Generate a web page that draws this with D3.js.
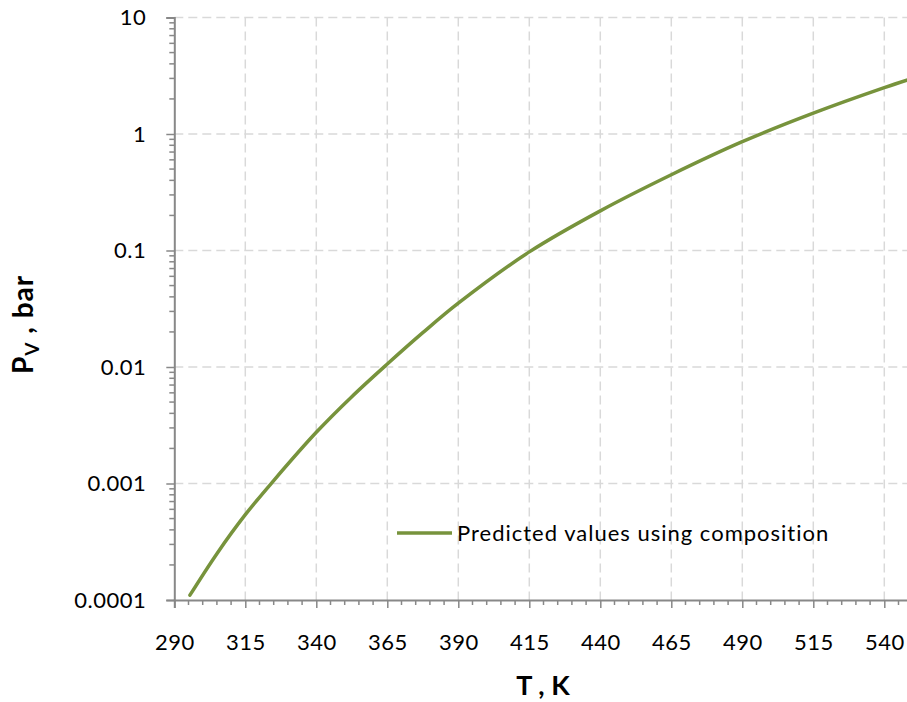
<!DOCTYPE html>
<html>
<head>
<meta charset="utf-8">
<script src="https://cdn.jsdelivr.net/npm/d3@7"></script>
<style>
  html, body { margin: 0; padding: 0; background: #fff; }
  svg { display: block; font-family: Lato, "Open Sans", sans-serif; }
</style>
</head>
<body>
<svg id="chart" width="907" height="702"></svg>
<script>
// Vapour pressure curve, predicted from composition
const temperatures = [295.5, 305, 315, 325, 340, 352.5, 365, 377.5, 390, 415, 440, 465, 490, 515, 540, 550];
const pressures    = [1.1e-4, 2.5e-4, 5.4e-4, 1.06e-3, 2.75e-3, 5.56e-3, 0.0106, 0.0197, 0.0353, 0.0973, 0.219, 0.447, 0.859, 1.51, 2.50, 3.01];
const seriesName = "Predicted values using composition";

const xTicks = [290, 315, 340, 365, 390, 415, 440, 465, 490, 515, 540];
const yTicks = [0.0001, 0.001, 0.01, 0.1, 1, 10];
const yTickLabels = ["0.0001", "0.001", "0.01", "0.1", "1", "10"];

(function draw() {
  const svg = d3.select("#chart");
  const plotLeft = 174.3, plotTop = 17.5, plotBottom = 600, plotRight = 912.7;

  const x = d3.scaleLinear().domain([290, 550]).range([plotLeft, plotRight]);
  const y = d3.scaleLog().domain([1e-4, 10]).range([plotBottom, plotTop]);

  const gridColor = "#d9d9d9", axisColor = "#888888", lineColor = "#77933c";

  // dashed grid
  const grid = svg.append("g");
  grid.selectAll("line.vg").data(xTicks.filter(t => t > 290)).join("line")
    .attr("class", "vg")
    .attr("x1", d => x(d)).attr("x2", d => x(d))
    .attr("y1", plotTop).attr("y2", plotBottom)
    .attr("stroke", gridColor).attr("stroke-width", 1.5).attr("stroke-dasharray", "9,5");
  grid.selectAll("line.hg").data(yTicks.filter(t => t > 1e-4)).join("line")
    .attr("class", "hg")
    .attr("x1", plotLeft).attr("x2", plotRight)
    .attr("y1", d => y(d)).attr("y2", d => y(d))
    .attr("stroke", gridColor).attr("stroke-width", 1.5).attr("stroke-dasharray", "9,5");

  // minor ticks
  const xMinor = d3.range(295, 551, 5).filter(t => (t - 290) % 25 !== 0);
  svg.append("g").selectAll("line").data(xMinor).join("line")
    .attr("x1", d => x(d)).attr("x2", d => x(d))
    .attr("y1", plotBottom).attr("y2", plotBottom + 5)
    .attr("stroke", axisColor).attr("stroke-width", 1.5);
  const yMinor = [];
  for (let e = -4; e < 1; e++) for (let k = 2; k <= 9; k++) yMinor.push(k * Math.pow(10, e));
  svg.append("g").selectAll("line").data(yMinor).join("line")
    .attr("x1", plotLeft - 5).attr("x2", plotLeft)
    .attr("y1", d => y(d)).attr("y2", d => y(d))
    .attr("stroke", axisColor).attr("stroke-width", 1.5);

  // axes
  const xAxis = svg.append("g").attr("transform", `translate(0,${plotBottom})`)
    .call(d3.axisBottom(x).tickValues(xTicks).tickSize(8).tickPadding(26).tickFormat(d3.format("d")));
  const yAxis = svg.append("g").attr("transform", `translate(${plotLeft},0)`)
    .call(d3.axisLeft(y).tickValues(yTicks).tickSize(8).tickPadding(20)
      .tickFormat((d, i) => yTickLabels[i]));
  [xAxis, yAxis].forEach(a => {
    a.select(".domain").attr("stroke", axisColor).attr("stroke-width", 2);
    a.selectAll(".tick line").attr("stroke", axisColor).attr("stroke-width", 1.5);
    a.selectAll(".tick text").attr("fill", "#000").style("font-size", "22px")
      .style("letter-spacing", "0.5px")
      .style("font-family", "Lato, 'Open Sans', sans-serif");
  });
  yAxis.selectAll(".tick text").attr("dy", "0.34em");

  // curve
  const pts = temperatures.map((t, i) => [x(t), y(pressures[i])]);
  svg.append("path").datum(pts)
    .attr("d", d3.line().curve(d3.curveCatmullRom.alpha(0.5)))
    .attr("fill", "none").attr("stroke", lineColor).attr("stroke-width", 3.5)
    .attr("stroke-linecap", "round");

  // legend
  svg.append("line").attr("x1", 397).attr("x2", 452).attr("y1", 533).attr("y2", 533)
    .attr("stroke", lineColor).attr("stroke-width", 3.5);
  svg.append("text").attr("x", 457).attr("y", 541).style("font-size", "22px")
    .style("letter-spacing", "1px")
    .text(seriesName);

  // axis titles
  svg.append("text").attr("x", 543).attr("y", 695).attr("text-anchor", "middle")
    .style("font-size", "27px").style("font-weight", "bold").text("T , K");
  const yt = svg.append("text").attr("transform", "translate(33,374) rotate(-90)")
    .attr("text-anchor", "start").style("font-size", "28px").style("font-weight", "bold")
    .style("letter-spacing", "1px");
  yt.append("tspan").text("P");
  yt.append("tspan").attr("dy", 6).style("font-size", "19px").text("V");
  yt.append("tspan").attr("dy", -6).text(" , bar");
})();
</script>
</body>
</html>
